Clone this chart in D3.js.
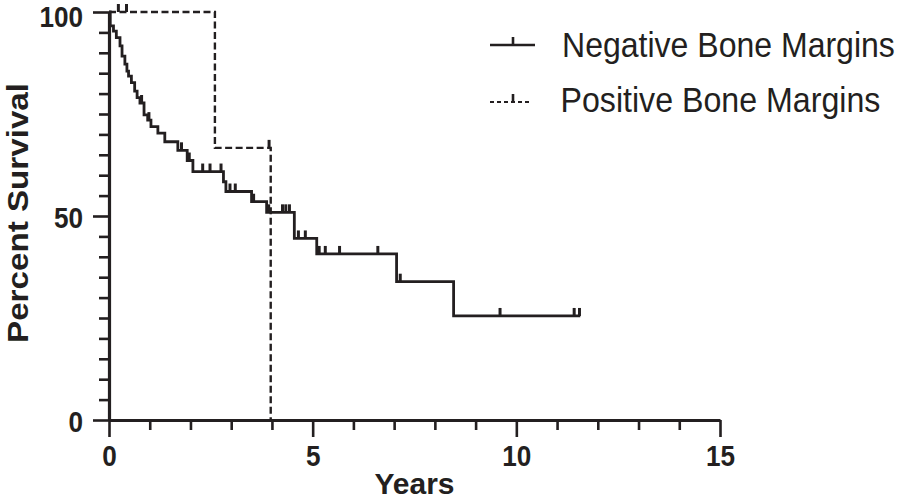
<!DOCTYPE html>
<html>
<head>
<meta charset="utf-8">
<script src="https://cdn.jsdelivr.net/npm/d3@7"></script>
<style>
  html, body { margin: 0; padding: 0; background: #ffffff; }
  svg { display: block; }
  text { font-family: "Liberation Sans", Arial, Helvetica, sans-serif; fill: #231f20; }
</style>
</head>
<body>
<svg id="chart" width="898" height="502"></svg>
<script>
// ---- data ----
const seriesNames = ["Negative Bone Margins", "Positive Bone Margins"];

// Negative bone margins: step times (years) and survival (%) after each step
const negTimes = [0, 0.03, 0.11, 0.18, 0.27, 0.32, 0.39, 0.44, 0.48, 0.55, 0.63, 0.69, 0.76, 0.86, 0.95, 1.03, 1.20, 1.37, 1.69, 1.92, 2.06, 2.81, 2.87, 3.50, 3.87, 4.55, 5.10, 7.06, 8.46, 11.57];
const negSurv  = [100, 96.6, 95.3, 93.7, 91.7, 89.2, 87.2, 85.5, 84.3, 82.7, 80.6, 79.0, 77.7, 74.8, 73.5, 71.9, 70.3, 68.2, 66.1, 63.6, 60.9, 58.4, 56.0, 53.5, 50.9, 44.5, 40.7, 33.9, 25.5, 25.5];
const negCensor = [0.80, 0.98, 1.78, 1.97, 2.30, 2.48, 2.75, 2.97, 3.10, 3.55, 3.92, 4.26, 4.34, 4.43, 4.65, 4.82, 5.16, 5.31, 5.66, 6.60, 7.15, 9.60, 11.42, 11.55];

// Positive bone margins
const posTimes = [0, 2.60, 3.97];
const posSurv  = [100, 66.7, 0];
const posCensor = [0.23, 0.43, 3.93];

const xTicks = [0, 5, 10, 15];
const yTicks = [0, 50, 100];
const xLabel = "Years";
const yLabel = "Percent Survival";

// ---- drawing ----
const ink = "#231f20";
const svg = d3.select("#chart");
const x = d3.scaleLinear().domain([0, 15]).range([109, 720]);
const y = d3.scaleLinear().domain([0, 100]).range([420, 12]);

function survAt(times, surv, t) {
  let s = surv[0];
  for (let i = 0; i < times.length; i++) { if (times[i] <= t) s = surv[i]; }
  return s;
}

const line = d3.line().x(d => x(d[0])).y(d => y(d[1])).curve(d3.curveStepAfter);

// Axes
const xAxis = d3.axisBottom(x).tickValues(d3.range(0, 16, 1))
  .tickSizeOuter(0).tickSizeInner(10).tickFormat(d => xTicks.includes(d) ? d : "");
const gx = svg.append("g").attr("transform", `translate(0,${y(0)})`).call(xAxis);
gx.selectAll(".tick line").attr("y2", d => xTicks.includes(d) ? 17 : 10);

const yAxis = d3.axisLeft(y).tickValues(d3.range(0, 101, 5))
  .tickSizeOuter(0).tickSizeInner(10).tickFormat(d => yTicks.includes(d) ? d : "");
const gy = svg.append("g").attr("transform", `translate(${x(0)},0)`).call(yAxis);
gy.selectAll(".tick line").attr("x2", d => yTicks.includes(d) ? -16 : -10);

[gx, gy].forEach(g => {
  g.select(".domain").attr("stroke", ink).attr("stroke-width", 3.2);
  g.selectAll(".tick line").attr("stroke", ink).attr("stroke-width", 2.6);
  g.selectAll(".tick text")
    .attr("fill", ink)
    .style("font-family", '"Liberation Sans", Arial, sans-serif')
    .style("font-size", "29px").style("font-weight", "bold");
});
gx.selectAll(".tick text").attr("y", 46).attr("dy", 0);
gy.selectAll(".tick text").attr("x", -26).attr("dy", 0)
  .attr("y", d => d === 100 ? 14.5 : 11.5);
[gx, gy].forEach(g => g.selectAll(".tick text").each(function () {
  const w = this.getComputedTextLength();
  if (w > 0) d3.select(this).attr("textLength", w * 0.9).attr("lengthAdjust", "spacingAndGlyphs");
}));

// Axis titles
svg.append("text").attr("x", x(7.5)).attr("y", 494).attr("text-anchor", "middle")
  .style("font-size", "30px").style("font-weight", "bold").text(xLabel);
svg.append("text").attr("transform", `translate(28,${(83 + 343) / 2}) rotate(-90)`)
  .attr("text-anchor", "middle").style("font-size", "30px").style("font-weight", "bold")
  .attr("textLength", 260).attr("lengthAdjust", "spacingAndGlyphs").text(yLabel);

// Curves
const negPts = negTimes.map((t, i) => [t, negSurv[i]]);
const posPts = posTimes.map((t, i) => [t, posSurv[i]]);

svg.append("path").attr("d", line(posPts)).attr("fill", "none")
  .attr("stroke", ink).attr("stroke-width", 2.4).attr("stroke-dasharray", "7,3.5");
svg.append("path").attr("d", line(negPts)).attr("fill", "none")
  .attr("stroke", ink).attr("stroke-width", 2.8);

// Censor marks
function censorMarks(times, stimes, ssurv) {
  svg.append("g").selectAll("line").data(times).join("line")
    .attr("x1", d => x(d)).attr("x2", d => x(d))
    .attr("y1", d => y(survAt(stimes, ssurv, d)))
    .attr("y2", d => y(survAt(stimes, ssurv, d)) - 8)
    .attr("stroke", ink).attr("stroke-width", 3);
}
censorMarks(negCensor, negTimes, negSurv);
censorMarks(posCensor, posTimes, posSurv);

// Legend
const legend = svg.append("g");
const legRows = [
  { name: seriesNames[0], y: 45, dash: null, tx: 562, ty: 56.7, len: 333 },
  { name: seriesNames[1], y: 102, dash: "4,3", tx: 560.5, ty: 111.7, len: 320 }
];
legRows.forEach(r => {
  legend.append("line").attr("x1", 490).attr("x2", r.dash ? 531 : 535)
    .attr("y1", r.y).attr("y2", r.y).attr("stroke", ink)
    .attr("stroke-width", r.dash ? 2.2 : 2.6).attr("stroke-dasharray", r.dash);
  legend.append("line").attr("x1", 513).attr("x2", 513)
    .attr("y1", r.y).attr("y2", r.y - 8).attr("stroke", ink).attr("stroke-width", 2.6);
  const t = legend.append("text").attr("x", 0).attr("y", 0)
    .style("font-size", "36px").text(r.name);
  const w = t.node().getComputedTextLength();
  t.attr("transform", `translate(${r.tx},${r.ty}) scale(${r.len / w},1)`);
});
</script>
</body>
</html>
